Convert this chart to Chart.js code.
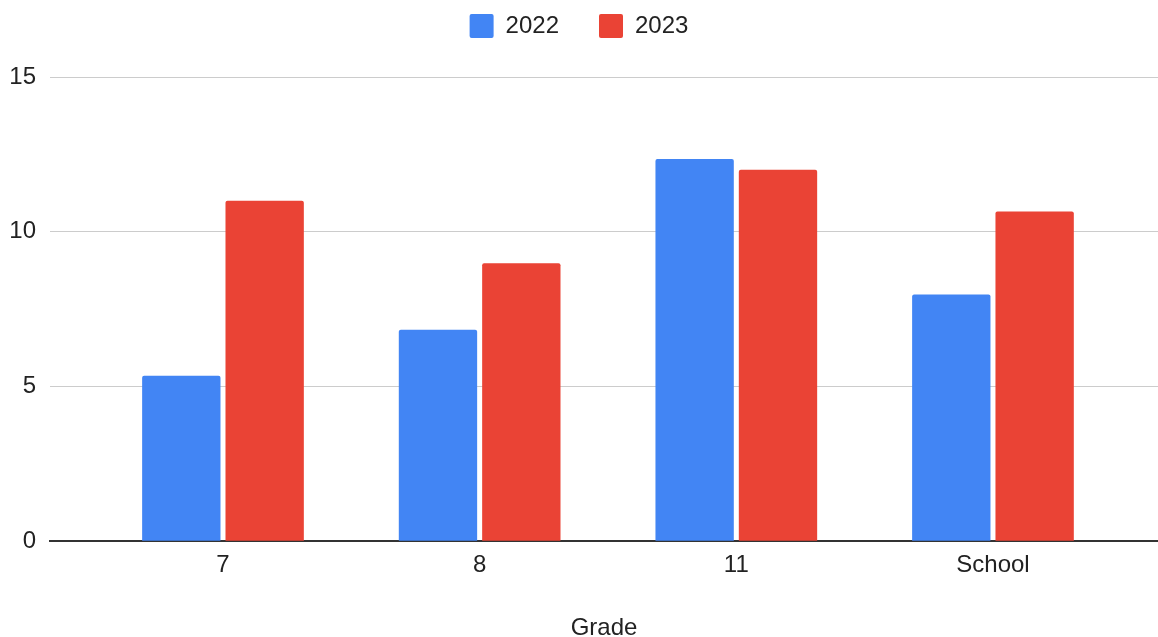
<!DOCTYPE html>
<html><head><meta charset="utf-8">
<script src="https://cdn.jsdelivr.net/npm/chart.js@4"></script>
<style>html,body{margin:0;padding:0;background:#fff;overflow:hidden}#wrap{width:1158px;height:637px;position:relative}</style>
</head><body><div id="wrap"><canvas id="c"></canvas></div>
<script>
const categories = ['7', '8', '11', 'School'];
const seriesNames = ['2022', '2023'];
const values2022 = [5.35, 6.83, 12.35, 7.97];
const values2023 = [11.0, 8.98, 12.0, 10.65];
const yTicks = [0, 5, 10, 15];
const xAxisTitle = 'Grade';

const FONT = "'Liberation Sans', Arial, sans-serif";
const TEXT = '#222222';

const toPoints = vals => vals.map((v, i) => ({ x: i, y: v }));

const legendSpacer = {
  id: 'legendSpacer',
  beforeInit(chart) {
    const lg = chart.legend;
    if (!lg) return;
    const orig = lg.fit;
    lg.fit = function () { orig.call(this); this.height += 29; };
  }
};

new Chart(document.getElementById('c'), {
  type: 'bar',
  data: {
    datasets: [
      { label: seriesNames[0], data: toPoints(values2022), backgroundColor: '#4285F4', borderWidth: 0, borderRadius: 2 },
      { label: seriesNames[1], data: toPoints(values2023), backgroundColor: '#EA4335', borderWidth: 0, borderRadius: 2 }
    ]
  },
  options: {
    responsive: true,
    maintainAspectRatio: false,
    animation: false,
    categoryPercentage: 0.6495,
    barPercentage: 0.94,
    layout: { padding: { top: -26, left: 0, right: 0, bottom: -3 } },
    plugins: {
      tooltip: { enabled: false },
      legend: {
        position: 'top',
        align: 'center',
        labels: {
          font: { family: FONT, size: 24 },
          color: TEXT,
          boxWidth: 24,
          boxHeight: 24,
          padding: 40,
          useBorderRadius: true,
          borderRadius: 2
        }
      }
    },
    scales: {
      x: {
        type: 'linear',
        offset: false,
        min: -0.674,
        max: 3.643,
        afterBuildTicks: axis => { axis.ticks = categories.map((_, i) => ({ value: i })); },
        grid: { display: false, drawTicks: false, offset: false },
        border: { display: true, color: '#333333', width: 2 },
        ticks: {
          autoSkip: false,
          maxRotation: 0,
          padding: 10,
          color: TEXT,
          font: { family: FONT, size: 24 },
          callback: v => categories[v]
        },
        title: {
          display: true,
          text: xAxisTitle,
          color: TEXT,
          font: { family: FONT, size: 24, lineHeight: 1 },
          padding: { top: 26, bottom: 0 }
        }
      },
      y: {
        min: yTicks[0],
        max: yTicks[yTicks.length - 1],
        afterBuildTicks: axis => { axis.ticks = yTicks.map(v => ({ value: v })); },
        afterFit: axis => { axis.width = 50; },
        grid: { color: '#cccccc', lineWidth: 1, drawTicks: false },
        border: { display: false },
        ticks: {
          padding: 14,
          color: TEXT,
          font: { family: FONT, size: 24 }
        }
      }
    }
  },
  plugins: [legendSpacer]
});
</script>
</body></html>
